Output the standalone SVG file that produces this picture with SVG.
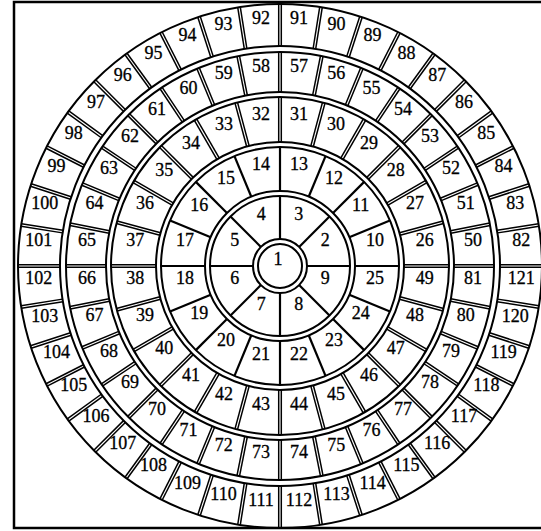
<svg xmlns="http://www.w3.org/2000/svg" width="541" height="531" viewBox="0 0 541 531">
<style>
.s{fill:none;stroke:#000;stroke-width:2}
line{stroke:#000;stroke-width:1.5}
text{font-family:"Liberation Serif","Times New Roman",serif;font-size:18px;text-anchor:middle;fill:#000;stroke:#000;stroke-width:0.3}
</style>
<defs>
<g id="d1"><line x1="27" y1="0" x2="70" y2="0" style="stroke-width:2.2"/></g>
<g id="d2"><line x1="75" y1="0" x2="119" y2="0" style="stroke-width:2.2"/></g>
<g id="d3"><line x1="124" y1="-1.3" x2="169" y2="-1.3"/><line x1="124" y1="1.3" x2="169" y2="1.3"/></g>
<g id="d4"><line x1="174" y1="-1.3" x2="214" y2="-1.3"/><line x1="174" y1="1.3" x2="214" y2="1.3"/></g>
<g id="d5"><line x1="220" y1="-1.3" x2="262" y2="-1.3"/><line x1="220" y1="1.3" x2="262" y2="1.3"/></g>
</defs>
<rect width="541" height="531" fill="#fff"/>
<rect id="frame" x="14" y="2" width="540" height="526" fill="none" stroke="#000" stroke-width="2.5"/>
<g id="connectors" transform="translate(280,266)">
<circle class="s" r="22"/><circle class="s" r="27"/>
<circle class="s" r="70"/><circle class="s" r="75"/>
<circle class="s" r="119"/><circle class="s" r="124"/>
<circle class="s" r="169"/><circle class="s" r="174"/>
<circle class="s" r="214"/><circle class="s" r="220"/>
<circle class="s" r="262"/>
<g id="div1">
<use href="#d1"/><use href="#d1" transform="rotate(45)"/><use href="#d1" transform="rotate(90)"/><use href="#d1" transform="rotate(135)"/><use href="#d1" transform="rotate(180)"/><use href="#d1" transform="rotate(225)"/><use href="#d1" transform="rotate(270)"/><use href="#d1" transform="rotate(315)"/>
</g>
<g id="div2">
<use href="#d2"/><use href="#d2" transform="rotate(22.5)"/><use href="#d2" transform="rotate(45)"/><use href="#d2" transform="rotate(67.5)"/><use href="#d2" transform="rotate(90)"/><use href="#d2" transform="rotate(112.5)"/><use href="#d2" transform="rotate(135)"/><use href="#d2" transform="rotate(157.5)"/><use href="#d2" transform="rotate(180)"/><use href="#d2" transform="rotate(202.5)"/><use href="#d2" transform="rotate(225)"/><use href="#d2" transform="rotate(247.5)"/><use href="#d2" transform="rotate(270)"/><use href="#d2" transform="rotate(292.5)"/><use href="#d2" transform="rotate(315)"/><use href="#d2" transform="rotate(337.5)"/>
</g>
<g id="div3">
<use href="#d3"/><use href="#d3" transform="rotate(15)"/><use href="#d3" transform="rotate(30)"/><use href="#d3" transform="rotate(45)"/><use href="#d3" transform="rotate(60)"/><use href="#d3" transform="rotate(75)"/><use href="#d3" transform="rotate(90)"/><use href="#d3" transform="rotate(105)"/><use href="#d3" transform="rotate(120)"/><use href="#d3" transform="rotate(135)"/><use href="#d3" transform="rotate(150)"/><use href="#d3" transform="rotate(165)"/><use href="#d3" transform="rotate(180)"/><use href="#d3" transform="rotate(195)"/><use href="#d3" transform="rotate(210)"/><use href="#d3" transform="rotate(225)"/><use href="#d3" transform="rotate(240)"/><use href="#d3" transform="rotate(255)"/><use href="#d3" transform="rotate(270)"/><use href="#d3" transform="rotate(285)"/><use href="#d3" transform="rotate(300)"/><use href="#d3" transform="rotate(315)"/><use href="#d3" transform="rotate(330)"/><use href="#d3" transform="rotate(345)"/>
</g>
<g id="div4">
<use href="#d4"/><use href="#d4" transform="rotate(11.25)"/><use href="#d4" transform="rotate(22.5)"/><use href="#d4" transform="rotate(33.75)"/><use href="#d4" transform="rotate(45)"/><use href="#d4" transform="rotate(56.25)"/><use href="#d4" transform="rotate(67.5)"/><use href="#d4" transform="rotate(78.75)"/><use href="#d4" transform="rotate(90)"/><use href="#d4" transform="rotate(101.25)"/><use href="#d4" transform="rotate(112.5)"/><use href="#d4" transform="rotate(123.75)"/><use href="#d4" transform="rotate(135)"/><use href="#d4" transform="rotate(146.25)"/><use href="#d4" transform="rotate(157.5)"/><use href="#d4" transform="rotate(168.75)"/><use href="#d4" transform="rotate(180)"/><use href="#d4" transform="rotate(191.25)"/><use href="#d4" transform="rotate(202.5)"/><use href="#d4" transform="rotate(213.75)"/><use href="#d4" transform="rotate(225)"/><use href="#d4" transform="rotate(236.25)"/><use href="#d4" transform="rotate(247.5)"/><use href="#d4" transform="rotate(258.75)"/><use href="#d4" transform="rotate(270)"/><use href="#d4" transform="rotate(281.25)"/><use href="#d4" transform="rotate(292.5)"/><use href="#d4" transform="rotate(303.75)"/><use href="#d4" transform="rotate(315)"/><use href="#d4" transform="rotate(326.25)"/><use href="#d4" transform="rotate(337.5)"/><use href="#d4" transform="rotate(348.75)"/>
</g>
<g id="div5">
<use href="#d5"/><use href="#d5" transform="rotate(9)"/><use href="#d5" transform="rotate(18)"/><use href="#d5" transform="rotate(27)"/><use href="#d5" transform="rotate(36)"/><use href="#d5" transform="rotate(45)"/><use href="#d5" transform="rotate(54)"/><use href="#d5" transform="rotate(63)"/><use href="#d5" transform="rotate(72)"/><use href="#d5" transform="rotate(81)"/><use href="#d5" transform="rotate(90)"/><use href="#d5" transform="rotate(99)"/><use href="#d5" transform="rotate(108)"/><use href="#d5" transform="rotate(117)"/><use href="#d5" transform="rotate(126)"/><use href="#d5" transform="rotate(135)"/><use href="#d5" transform="rotate(144)"/><use href="#d5" transform="rotate(153)"/><use href="#d5" transform="rotate(162)"/><use href="#d5" transform="rotate(171)"/><use href="#d5" transform="rotate(180)"/><use href="#d5" transform="rotate(189)"/><use href="#d5" transform="rotate(198)"/><use href="#d5" transform="rotate(207)"/><use href="#d5" transform="rotate(216)"/><use href="#d5" transform="rotate(225)"/><use href="#d5" transform="rotate(234)"/><use href="#d5" transform="rotate(243)"/><use href="#d5" transform="rotate(252)"/><use href="#d5" transform="rotate(261)"/><use href="#d5" transform="rotate(270)"/><use href="#d5" transform="rotate(279)"/><use href="#d5" transform="rotate(288)"/><use href="#d5" transform="rotate(297)"/><use href="#d5" transform="rotate(306)"/><use href="#d5" transform="rotate(315)"/><use href="#d5" transform="rotate(324)"/><use href="#d5" transform="rotate(333)"/><use href="#d5" transform="rotate(342)"/><use href="#d5" transform="rotate(351)"/>
</g>
</g>
<g id="cell1"><text x="278" y="265">1</text></g>
<g id="ring1">
<text x="325.3" y="246.2">2</text><text x="298.8" y="219.7">3</text><text x="261.2" y="219.7">4</text><text x="234.7" y="246.2">5</text><text x="234.7" y="283.8">6</text><text x="261.2" y="310.3">7</text><text x="298.8" y="310.3">8</text><text x="325.3" y="283.8">9</text>
</g>
<g id="ring2">
<text x="375.1" y="246.1">10</text><text x="360.7" y="211.1">11</text><text x="333.9" y="184.3">12</text><text x="298.9" y="169.9">13</text><text x="261.1" y="169.9">14</text><text x="226.1" y="184.3">15</text><text x="199.3" y="211.1">16</text><text x="184.9" y="246.1">17</text><text x="184.9" y="283.9">18</text><text x="199.3" y="318.9">19</text><text x="226.1" y="345.7">20</text><text x="261.1" y="360.1">21</text><text x="298.9" y="360.1">22</text><text x="333.9" y="345.7">23</text><text x="360.7" y="318.9">24</text><text x="375.1" y="283.9">25</text>
</g>
<g id="ring3">
<text x="424.8" y="245.9">26</text><text x="414.9" y="209.1">27</text><text x="395.8" y="176.1">28</text><text x="368.9" y="149.2">29</text><text x="335.9" y="130.1">30</text><text x="299.1" y="120.3">31</text><text x="260.9" y="120.3">32</text><text x="224.1" y="130.1">33</text><text x="191.1" y="149.2">34</text><text x="164.2" y="176.1">35</text><text x="145.1" y="209.1">36</text><text x="135.3" y="245.9">37</text><text x="135.3" y="284.1">38</text><text x="145.1" y="320.9">39</text><text x="164.2" y="353.9">40</text><text x="191.1" y="380.8">41</text><text x="224.1" y="399.9">42</text><text x="260.9" y="409.8">43</text><text x="299.1" y="409.8">44</text><text x="335.9" y="399.9">45</text><text x="368.9" y="380.8">46</text><text x="395.8" y="353.9">47</text><text x="414.9" y="320.9">48</text><text x="424.8" y="284.1">49</text>
</g>
<g id="ring4">
<text x="473.1" y="246">50</text><text x="465.7" y="208.7">51</text><text x="451.1" y="173.6">52</text><text x="430" y="141.9">53</text><text x="403.1" y="115">54</text><text x="371.5" y="93.9">55</text><text x="336.3" y="79.4">56</text><text x="299" y="71.9">57</text><text x="261" y="71.9">58</text><text x="223.7" y="79.4">59</text><text x="188.5" y="93.9">60</text><text x="157" y="115">61</text><text x="130" y="141.9">62</text><text x="108.9" y="173.6">63</text><text x="94.4" y="208.7">64</text><text x="86.9" y="246">65</text><text x="86.9" y="284">66</text><text x="94.4" y="321.3">67</text><text x="108.9" y="356.5">68</text><text x="130" y="388.1">69</text><text x="157" y="415">70</text><text x="188.5" y="436.1">71</text><text x="223.7" y="450.7">72</text><text x="261" y="458.1">73</text><text x="299" y="458.1">74</text><text x="336.3" y="450.7">75</text><text x="371.5" y="436.1">76</text><text x="403.1" y="415">77</text><text x="430" y="388.1">78</text><text x="451.1" y="356.5">79</text><text x="465.7" y="321.3">80</text><text x="473.1" y="284">81</text>
</g>
<g id="ring5">
<text x="521.3" y="246">82</text><text x="515.3" y="208.5">83</text><text x="503.6" y="172.4">84</text><text x="486.3" y="138.6">85</text><text x="464" y="107.8">86</text><text x="437.2" y="81">87</text><text x="406.4" y="58.7">88</text><text x="372.6" y="41.4">89</text><text x="336.5" y="29.7">90</text><text x="299" y="23.8">91</text><text x="261" y="23.8">92</text><text x="223.5" y="29.7">93</text><text x="187.4" y="41.4">94</text><text x="153.6" y="58.7">95</text><text x="122.8" y="81">96</text><text x="96" y="107.8">97</text><text x="73.7" y="138.6">98</text><text x="56.4" y="172.4">99</text><text x="44.7" y="208.5">100</text><text x="38.8" y="246">101</text><text x="38.8" y="284">102</text><text x="44.7" y="321.5">103</text><text x="56.4" y="357.6">104</text><text x="73.7" y="391.4">105</text><text x="96" y="422.2">106</text><text x="122.8" y="449">107</text><text x="153.6" y="471.3">108</text><text x="187.4" y="488.6">109</text><text x="223.5" y="500.3">110</text><text x="261" y="506.2">111</text><text x="299" y="506.2">112</text><text x="336.5" y="500.3">113</text><text x="372.6" y="488.6">114</text><text x="406.4" y="471.3">115</text><text x="437.2" y="449">116</text><text x="464" y="422.2">117</text><text x="486.3" y="391.4">118</text><text x="503.6" y="357.6">119</text><text x="515.3" y="321.5">120</text><text x="521.3" y="284">121</text>
</g>
</svg>
